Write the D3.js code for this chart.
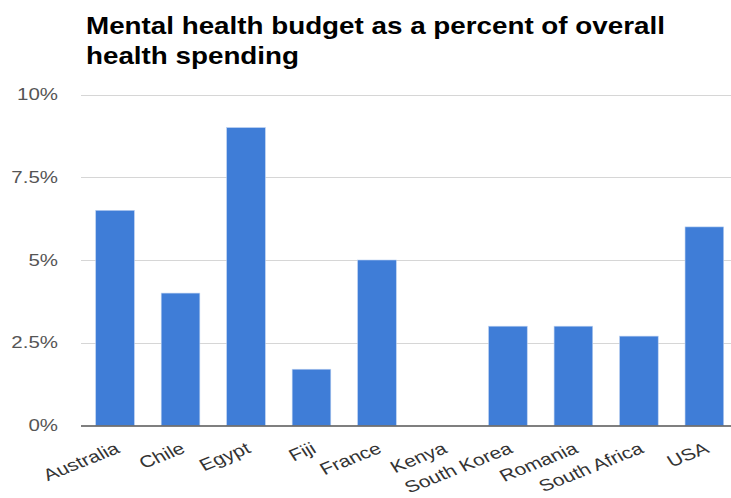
<!DOCTYPE html>
<html>
<head>
<meta charset="utf-8">
<script src="https://cdn.jsdelivr.net/npm/d3@7/dist/d3.min.js"></script>
<style>
  html, body { margin: 0; padding: 0; background: #fff; }
  svg { display: block; }
</style>
</head>
<body>
<svg id="chart" width="731" height="498"></svg>
<script>
const countries = ["Australia", "Chile", "Egypt", "Fiji", "France", "Kenya", "South Korea", "Romania", "South Africa", "USA"];
const budgetShare = [0.065, 0.040, 0.090, 0.017, 0.050, 0.000, 0.030, 0.030, 0.027, 0.060];
const yTicks = [0, 0.025, 0.05, 0.075, 0.10];
const yTickLabels = ["0%", "2.5%", "5%", "7.5%", "10%"];
const titleLines = ["Mental health budget as a percent of overall", "health spending"];

const W = 731, H = 498;
const svg = d3.select("#chart");
const stretch = 1.28;
const titleStretch = 1.208;

const x = d3.scaleBand().domain(countries).range([82.3, 737.1]).paddingInner(0.41).paddingOuter(0.205);
const y = d3.scaleLinear().domain([0, 0.10]).range([425.5, 94.5]);

// gridlines
svg.append("g").selectAll("line").data(yTicks.slice(1)).join("line")
  .attr("x1", 81).attr("x2", W)
  .attr("y1", d => Math.round(y(d)) + 0.5).attr("y2", d => Math.round(y(d)) + 0.5)
  .attr("stroke", "#d6d6d6").attr("stroke-width", 1.2);

// y labels
svg.append("g").selectAll("text").data(yTicks).join("text")
  .attr("transform", d => `translate(58,${y(d) + 5.6}) scale(${stretch},1)`)
  .attr("text-anchor", "end")
  .attr("font-family", "Liberation Sans, Arial, sans-serif")
  .attr("font-size", 16)
  .attr("fill", "#555")
  .text((d, i) => yTickLabels[i]);

// bars
svg.append("g").selectAll("rect").data(countries).join("rect")
  .attr("x", d => x(d))
  .attr("width", x.bandwidth())
  .attr("y", (d, i) => y(budgetShare[i]))
  .attr("height", (d, i) => y(0) - y(budgetShare[i]))
  .attr("fill", "#3f7dd7")
  .attr("stroke", "#b9cff0")
  .attr("stroke-width", 0.6);

// baseline
svg.append("line")
  .attr("x1", 81).attr("x2", W)
  .attr("y1", y(0) + 0.5).attr("y2", y(0) + 0.5)
  .attr("stroke", "#555").attr("stroke-width", 1.6);

// x labels
svg.append("g").selectAll("text").data(countries).join("text")
  .attr("transform", d => `translate(${x(d) + x.bandwidth() / 2 + 6},${452}) scale(${stretch},1) rotate(-27)`)
  .attr("text-anchor", "end")
  .attr("font-family", "Liberation Sans, Arial, sans-serif")
  .attr("font-size", 16.5)
  .attr("fill", "#333")
  .text(d => d);

// title
svg.append("g").selectAll("text").data(titleLines).join("text")
  .attr("transform", (d, i) => `translate(86,${34.3 + i * 30}) scale(${titleStretch},1)`)
  .attr("font-family", "Liberation Sans, Arial, sans-serif")
  .attr("font-weight", "bold")
  .attr("font-size", 23)
  .attr("fill", "#000")
  .text(d => d);
</script>
</body>
</html>
